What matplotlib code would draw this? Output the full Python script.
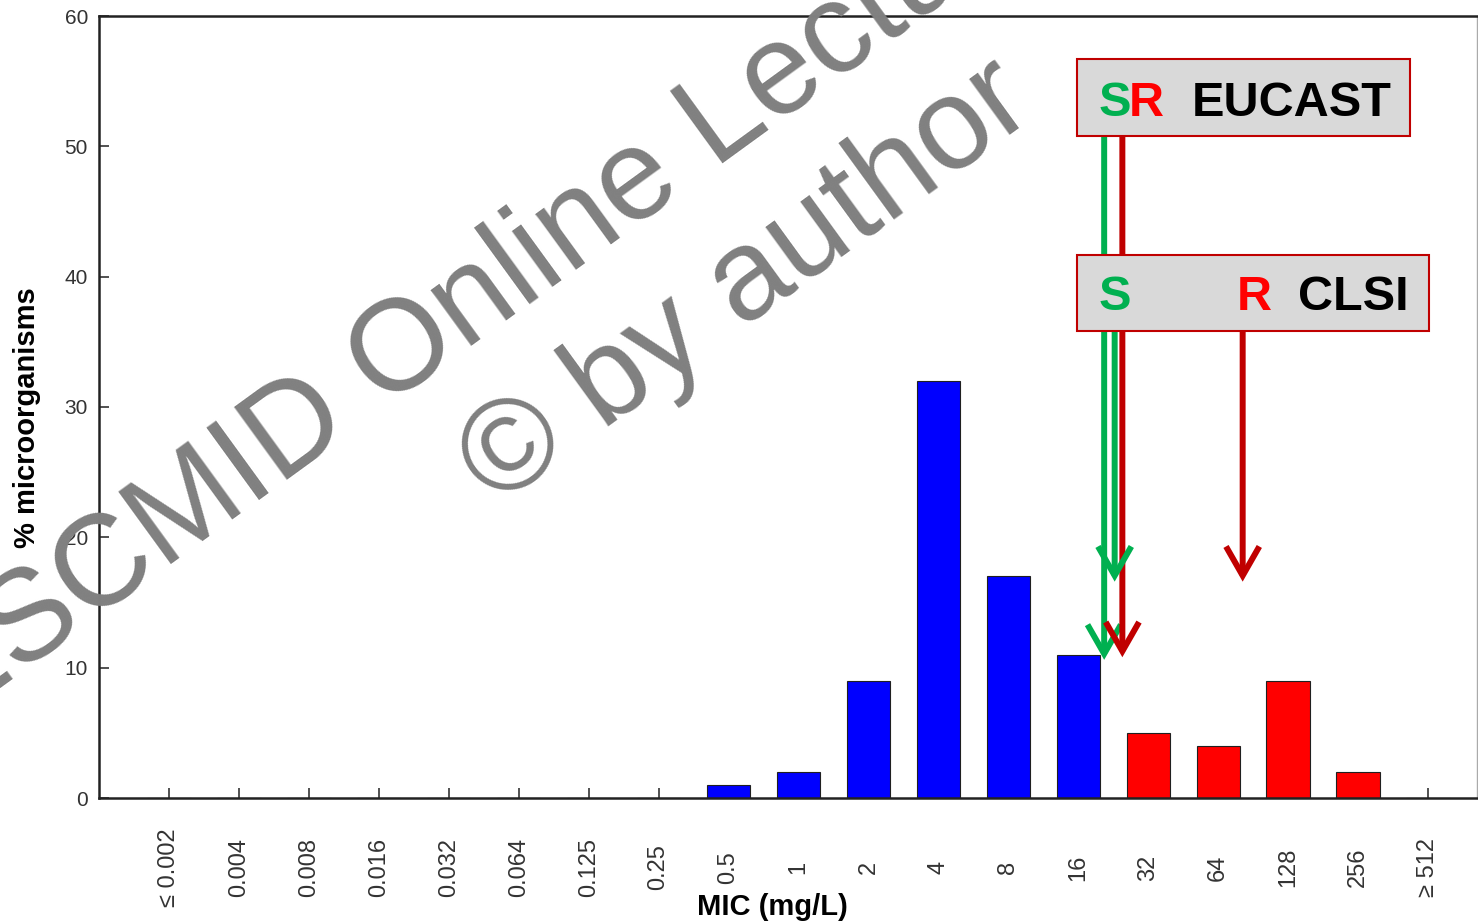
import numpy as np
import matplotlib
matplotlib.use('Agg')
from matplotlib import pyplot as plt
from matplotlib.patches import Rectangle, FancyArrowPatch, ArrowStyle

plt.rcParams['font.family'] = ['Liberation Sans', 'DejaVu Sans']

# MIC distribution
mic_labels = ['≤ 0.002', '0.004', '0.008', '0.016', '0.032', '0.064', '0.125', '0.25',
              '0.5', '1', '2', '4', '8', '16', '32', '64', '128', '256', '≥ 512']
pct = [0, 0, 0, 0, 0, 0, 0, 0, 1, 2, 9, 32, 17, 11, 5, 4, 9, 2, 0]
last_susceptible = '16'

# breakpoint arrows (x position between categories, start y, tip y)
eucast_s = (13.37, 50.8, 10.6)
eucast_r = (13.63, 50.8, 10.8)
clsi_s = (13.52, 35.8, 16.6)
clsi_r = (15.35, 35.8, 16.6)

W, H = 1478, 921
fig = plt.figure(figsize=(W / 100, H / 100), dpi=100)
ax = fig.add_axes([99 / W, (H - 798) / H, (1477 - 99) / W, (798 - 16) / H])

x = np.arange(len(mic_labels))
cut = mic_labels.index(last_susceptible)
colors = ['#0000ff' if i <= cut else '#ff0000' for i in x]
ax.bar(x, pct, width=0.62, color=colors, edgecolor='#202020', linewidth=0.8, zorder=2)

ax.set_xlim(-1, 18.7)
ax.set_ylim(0, 60)
ax.set_yticks(range(0, 61, 10))
ax.set_xticks(x)
ax.set_xticklabels(mic_labels, rotation=90, va='center', ha='center', fontsize=17, color='#333333')
ax.tick_params(axis='x', direction='in', length=7, width=1.2, pad=50, colors='#333333')
ax.tick_params(axis='y', direction='in', length=7, width=1.2, pad=8, labelsize=15, colors='#333333')
for lab in ax.get_yticklabels():
    lab.set_color('#333333')
for sp in ['left', 'bottom', 'top']:
    ax.spines[sp].set_linewidth(1.8)
    ax.spines[sp].set_color('#222222')
ax.spines['right'].set_color('#aaaaaa')
ax.spines['right'].set_linewidth(1)

ax.set_xlabel('MIC (mg/L)', fontsize=21, fontweight='bold', va='top')
ax.xaxis.set_label_coords(0.489, -0.1215)
ax.set_ylabel('% microorganisms', fontsize=21, fontweight='bold', va='center')
ax.yaxis.set_label_coords(-0.052, 0.487)

green = '#00b050'
dred = '#c00000'


def arrow(spec, col, z):
    xx, y0, y1 = spec
    a = FancyArrowPatch((xx, y0), (xx, y1), arrowstyle=ArrowStyle('->', head_length=21, head_width=12),
                        mutation_scale=1, lw=4.3, color=col, shrinkA=0, shrinkB=0,
                        zorder=z, clip_on=False, capstyle='butt', joinstyle='miter')
    ax.add_patch(a)


arrow(eucast_s, green, 3)
arrow(eucast_r, dred, 3)

# boxes
ax.add_patch(Rectangle((12.98, 50.8), 4.76, 5.9, facecolor='#d9d9d9', edgecolor=dred,
                       lw=1.5, zorder=4, clip_on=False))
ax.add_patch(Rectangle((12.98, 35.8), 5.03, 5.9, facecolor='#d9d9d9', edgecolor=dred,
                       lw=1.5, zorder=4, clip_on=False))
tk = dict(fontsize=35, fontweight='bold', va='baseline', ha='left', zorder=5)
ax.text(13.29, 52.3, 'S', color=green, **tk)
ax.text(13.72, 52.3, 'R', color='#ff0000', **tk)
ax.text(14.62, 52.3, 'EUCAST', color='black', **tk)
ax.text(13.29, 37.45, 'S', color=green, **tk)
ax.text(15.27, 37.45, 'R', color='#ff0000', **tk)
ax.text(16.14, 37.45, 'CLSI', color='black', **tk)

arrow(clsi_s, green, 3)
arrow(clsi_r, dred, 3)

# watermark
wm = dict(rotation=36, rotation_mode='anchor', ha='left', va='baseline', fontsize=93,
          color='#808080', zorder=10)
fig.text(-52 / W, (H - 726) / H, 'ESCMID Online Lecture Library', **wm)
fig.text(496 / W, (H - 508) / H, '© by author', **wm)

fig.savefig('out.png', dpi=100)
